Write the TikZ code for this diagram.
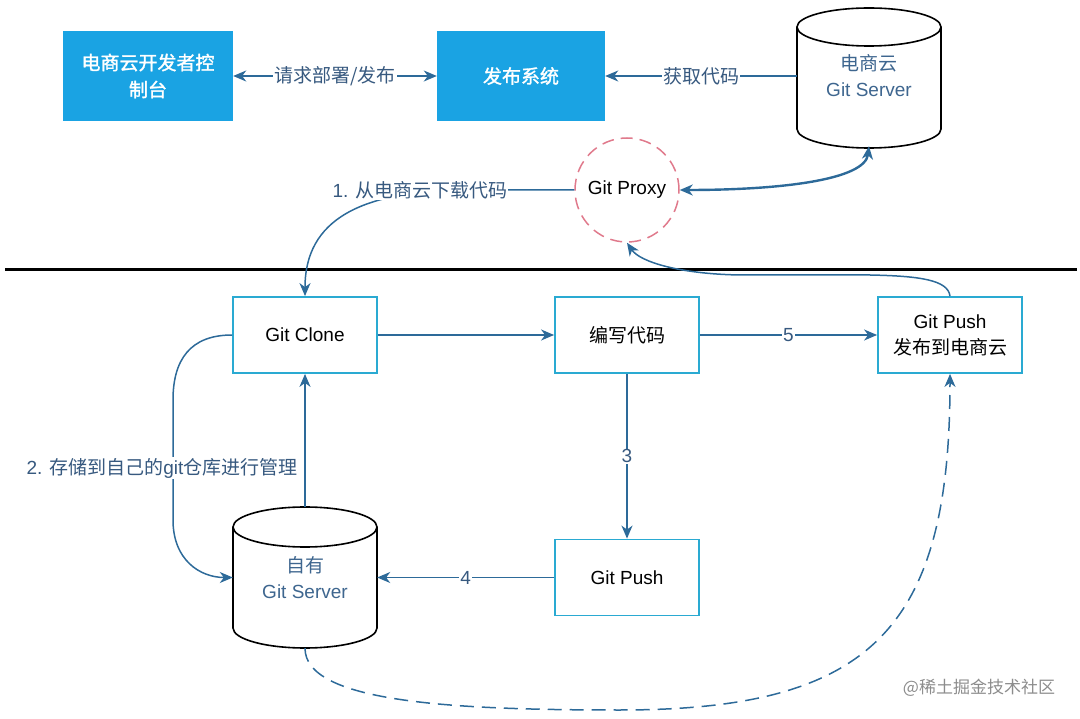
\documentclass[tikz,border=0pt]{standalone}
\usepackage{fontspec}
\setmainfont{Liberation Sans}
\newfontfamily\cjk{Noto Sans CJK SC}
\newfontfamily\cjkmed[FakeBold=1.5]{Noto Sans CJK SC}
\usetikzlibrary{arrows.meta,shapes.geometric}
\definecolor{topfill}{HTML}{1AA3E3}
\definecolor{boxline}{HTML}{2AAAD2}
\definecolor{edgecol}{HTML}{2D6A99}
\definecolor{labcol}{HTML}{37597F}
\definecolor{cyltext}{HTML}{3E668F}
\definecolor{proxycol}{HTML}{E07A8C}
\tikzset{
  topbox/.style={rectangle, fill=topfill, draw=none, text=white, align=center,
    minimum width=170, minimum height=90, inner sep=0pt, font=\cjkmed\fontsize{19}{27}\selectfont},
  lowbox/.style={rectangle, fill=white, draw=boxline, line width=1.8pt, align=center,
    minimum width=144, minimum height=76, inner sep=0pt},
  cylbody/.style={rectangle, draw=none, align=center, text=cyltext, minimum width=144, inner sep=0pt},
  cylline/.style={draw=black, fill=white, line width=1.6pt},
  edge/.style={draw=edgecol, line width=1.5pt, -{Stealth[length=13pt,width=11pt,inset=4pt]}},
  dedge/.style={draw=edgecol, line width=1.5pt, {Stealth[length=13pt,width=11pt,inset=4pt]}-{Stealth[length=13pt,width=11pt,inset=4pt]}},
  lab/.style={fill=white, text=labcol, inner sep=1pt},
}
\begin{document}
\begin{tikzpicture}[x=1pt,y=-1pt, font=\fontsize{19}{26}\selectfont]
\useasboundingbox (0,0) rectangle (1080,719);

% top row
\node[topbox] (A) at (148,76) {电商云开发者控\\制台};
\node[topbox, minimum width=168] (B) at (521,76) {发布系统};

% cloud git server cylinder
\fill[white] (797,27) rectangle (941,129);
\draw[cylline] (797,27) -- (797,129) arc[start angle=180, end angle=0, x radius=72, y radius=19] -- (941,27);
\draw[cylline] (869,27) ellipse[x radius=72, y radius=19];
\node[cylbody, minimum height=140] (C1) at (869,76) {{\cjk 电商云}\\Git Server};

% git proxy
\node[circle, draw=proxycol, line width=1.5pt, dash pattern=on 12pt off 7pt,
  minimum size=104, inner sep=0pt] (PX) at (627,190) {Git Proxy};

% separator
\draw[line width=3pt] (5,270) -- (1077,270);

% lower boxes
\node[lowbox] (CL) at (305,335) {Git Clone};
\node[lowbox] (WR) at (627,335) {\cjk 编写代码};
\node[lowbox] (GP1) at (950,335) {Git Push\\{\cjk 发布到电商云}};
\node[lowbox] (GP2) at (627,577.5) {Git Push};

% own git server cylinder
\fill[white] (233,527) rectangle (377,628);
\draw[cylline] (233,527) -- (233,628) arc[start angle=180, end angle=0, x radius=72, y radius=20] -- (377,527);
\draw[cylline] (305,527) ellipse[x radius=72, y radius=20];
\node[cylbody, minimum height=141] (C2) at (305,577.5) {{\cjk 自有}\\Git Server};

% connectors top
\draw[dedge] (A) -- node[lab, font=\cjk\fontsize{19}{26}\selectfont] {请求部署/发布} (B);
\draw[edge] (C1.west |- B.east) -- node[lab, font=\cjk\fontsize{19}{26}\selectfont] {获取代码} (B.east);
\draw[dedge, line width=2.4pt] (PX.east) .. controls (780,190) and (865,180) .. (C1.south);

% proxy to clone
\draw[edge] (PX.west) -- (470,190) .. controls (360,190) and (305,220) .. (CL.north);
\node[lab] (L1) at (420,190) {1. {\cjk 从电商云下载代码}};

% lower connectors
\draw[edge] (CL) -- (WR);
\draw[edge] (WR) -- node[lab] {5} (GP1);
\draw[edge] (WR) -- node[lab] {3} (GP2);
\draw[edge] (GP2.west) -- node[lab] {4} (C2.east |- GP2.west);
\draw[edge] (C2.north) -- (CL.south);

\draw[edge] (CL.west) .. controls (190,335) and (173,360) .. (173,400) -- (173,520)
  .. controls (173,560) and (200,577.5) .. (C2.west);
\node[lab] (L2) at (162,468) {2. {\cjk 存储到自己的}git{\cjk 仓库进行管理}};

\draw[edge] (GP1.north) .. controls (948,280) and (920,276) .. (870,275) -- (740,275)
  .. controls (680,274) and (640,262) .. (PX.south);

\draw[edge, dash pattern=on 14pt off 8pt] (C2.south) .. controls (305,702) and (450,710) .. (620,710)
  .. controls (870,710) and (950,630) .. (GP1.south);

% watermark
\node[text=black!45, font=\cjk\fontsize{17}{20}\selectfont] (WM) at (979,688) {@稀土掘金技术社区};
\end{tikzpicture}
\end{document}
